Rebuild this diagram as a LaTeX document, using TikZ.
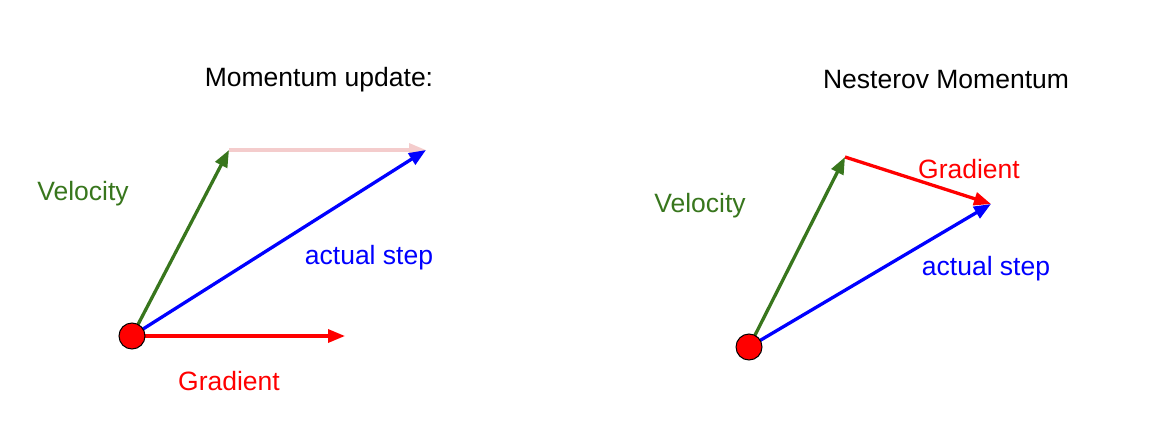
\documentclass[tikz,border=0pt]{standalone}
\usepackage{fontspec}
\setmainfont{Liberation Sans}
\usetikzlibrary{arrows.meta}
\definecolor{vgreen}{RGB}{56,118,29}
\definecolor{vpink}{RGB}{244,204,204}
\tikzset{
  vec/.style={line width=3.3pt,-{Triangle[length=17pt,width=13pt]}},
  dot/.style={circle,draw=black,line width=1pt,fill=red,minimum size=26pt,inner sep=0pt},
  lbl/.style={font=\fontsize{26.5}{30}\selectfont,inner sep=0pt}
}
\begin{document}
\begin{tikzpicture}[x=1pt,y=-1pt]
\useasboundingbox (0,0) rectangle (1174,430);
% left
\node[lbl] (t1) at (319,80) {Momentum update:};
\coordinate (o1) at (132,336);
\coordinate (v1) at (229,150);
\coordinate (a1) at (426,150);
\coordinate (g1) at (345,336);
\draw[vec,vpink] (v1) -- (a1);
\draw[vec,vgreen] (o1) -- (v1);
\draw[vec,blue] (o1) -- (a1);
\draw[vec,red] (o1) -- (g1);
\node[dot] (d1) at (o1) {};
\node[lbl,text=vgreen] (lv1) at (83,194) {Velocity};
\node[lbl,text=blue] (la1) at (369,258) {actual step};
\node[lbl,text=red] (lg1) at (229,381) {Gradient};
% right
\node[lbl] (t2) at (946,80) {Nesterov Momentum};
\coordinate (o2) at (749,347);
\coordinate (v2) at (845,157);
\coordinate (a2) at (991,204);
\draw[vec,vgreen] (o2) -- (v2);
\draw[vec,red] (v2) -- (a2);
\draw[vec,blue] (o2) -- (a2);
\node[dot] (d2) at (o2) {};
\node[lbl,text=vgreen] (lv2) at (700,206) {Velocity};
\node[lbl,text=blue] (la2) at (986,269) {actual step};
\node[lbl,text=red] (lg2) at (969,169) {Gradient};
\end{tikzpicture}
\end{document}
